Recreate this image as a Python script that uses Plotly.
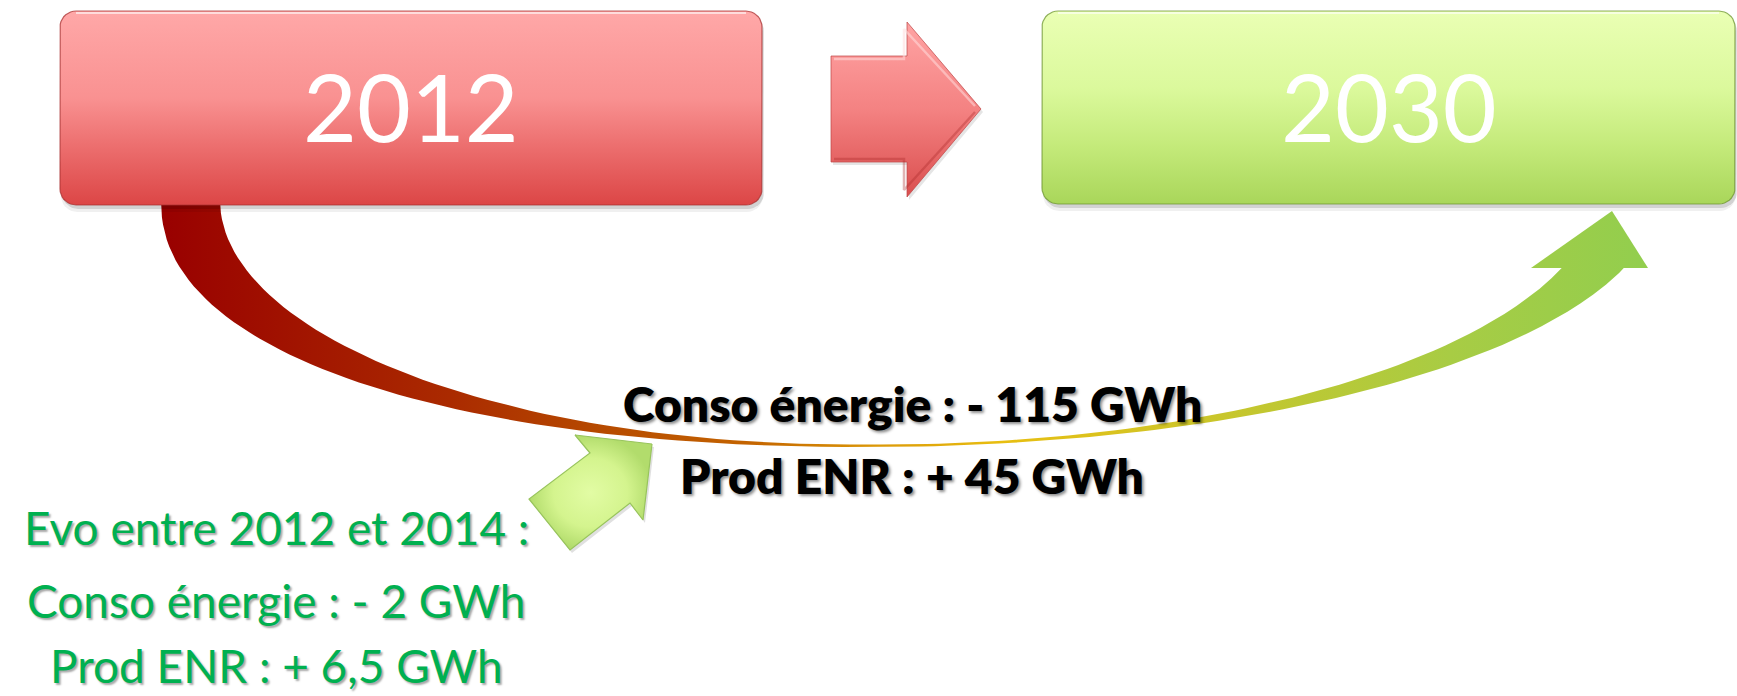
import numpy as np
import plotly.graph_objects as go

# ---------------- data ----------------
years = ["2012", "2030"]
target_labels = ["Conso énergie", "Prod ENR"]
target_values = [-115, 45]          # GWh, 2012 -> 2030
evo_period = ["2012", "2014"]
evo_labels = ["Conso énergie", "Prod ENR"]
evo_values = [-2, 6.5]              # GWh, 2012 -> 2014
unit = "GWh"


def fmt(v):
    sign = "-" if v < 0 else "+"
    return f"{sign} {abs(v):g}".replace(".", ",")


W, H = 1737, 696

# ---------------- geometry (pixel space) ----------------
def rounded_rect(x0, y0, x1, y1, r, n=10):
    xs, ys = [], []
    corners = [(x1 - r, y0 + r, -90, 0), (x1 - r, y1 - r, 0, 90),
               (x0 + r, y1 - r, 90, 180), (x0 + r, y0 + r, 180, 270)]
    for cx, cy, a0, a1 in corners:
        t = np.radians(np.linspace(a0, a1, n))
        xs += list(cx + r * np.cos(t))
        ys += list(cy + r * np.sin(t))
    xs.append(xs[0]); ys.append(ys[0])
    return xs, ys


def arc_left(cx, cy, a, b, p, n=60):
    """quarter super-ellipse from the top-left (vertical tangent) down to the bottom."""
    t = np.linspace(0, np.pi / 2, n)
    e = 2.0 / p
    return list(cx - a * np.cos(t) ** e), list(cy + b * np.sin(t) ** e)


def arc_right(cx, cy, a, b, x_end, n=60):
    """ellipse arc from the bottom point rising to the right until x_end."""
    x = np.linspace(cx, x_end, n)
    y = cy + b * np.sqrt(np.clip(1 - ((x - cx) / a) ** 2, 0, 1))
    return list(x), list(y)


boxes = [
    dict(x0=60, y0=11, x1=762, y1=205,
         colors=[[0, "#FFA8A8"], [0.45, "#F99191"], [0.7, "#EC6E6E"], [1, "#DC4646"]],
         edge="rgba(170,50,50,0.75)"),
    dict(x0=1042, y0=11, x1=1735, y1=204,
         colors=[[0, "#EAFFB4"], [0.4, "#DBF99C"], [0.7, "#C4EA7A"], [1, "#A9D65A"]],
         edge="rgba(110,150,50,0.75)"),
]

# big curved arrow: outer (lower) and inner (upper) edges
lx1, ly1 = arc_left(870, 200, 709, 247, 2.2)
lx2, ly2 = arc_right(870, 192, 790, 255, 1632)
ux2, uy2 = arc_right(880, 184.5, 720, 260, 1575)
ux1, uy1 = arc_left(850, 200, 630, 244.5, 2.0)
band_x = lx1 + lx2 + ux2[::-1] + ux1[::-1]
band_y = ly1 + ly2 + uy2[::-1] + uy1[::-1]

head_x = [1531, 1612, 1648, 1531]
head_y = [268, 211, 268, 268]
curve_scale = [[0, "#990000"], [0.194, "#AA2A00"], [0.295, "#B64A00"], [0.396, "#C46400"],
               [0.484, "#DC9A08"], [0.564, "#E8BE10"], [0.665, "#D4C424"], [0.766, "#BCC834"],
               [0.867, "#A8CC44"], [1, "#92CE4E"]]

# right block arrow between boxes
rarrow_x = [831, 907, 907, 981, 907, 907, 831, 831]
rarrow_y = [56, 56, 22, 109, 197, 162, 162, 56]

# small green arrow (pointing up-right)
sarrow_x = [652, 575, 590, 529, 570, 630, 643, 652]
sarrow_y = [444, 435, 453, 499, 550, 503, 520, 444]

fig = go.Figure()

# curved arrow band + head
fig.add_trace(go.Scatter(
    x=band_x, y=band_y, mode="lines", line=dict(width=0), fill="toself",
    fillgradient=dict(type="horizontal", start=161, stop=1648, colorscale=curve_scale),
    hoverinfo="skip"))
fig.add_trace(go.Scatter(
    x=head_x, y=head_y, mode="lines", line=dict(width=0), fill="toself",
    fillgradient=dict(type="horizontal", start=161, stop=1648, colorscale=curve_scale),
    hoverinfo="skip"))

# box shadows and boxes
for b in boxes:
    for dx, dy, a in [(1, 7, 0.06), (2, 4, 0.12)]:
        xs, ys = rounded_rect(b["x0"] + dx, b["y0"] + dy, b["x1"] + dx, b["y1"] + dy, 16)
        fig.add_trace(go.Scatter(x=xs, y=ys, mode="lines", line=dict(width=0),
                                 fill="toself", fillcolor=f"rgba(0,0,0,{a})", hoverinfo="skip"))
    xs, ys = rounded_rect(b["x0"], b["y0"], b["x1"], b["y1"], 16)
    fig.add_trace(go.Scatter(
        x=xs, y=ys, mode="lines", line=dict(width=1.2, color=b["edge"]), fill="toself",
        fillgradient=dict(type="vertical", start=b["y0"], stop=b["y1"], colorscale=b["colors"]),
        hoverinfo="skip"))
    # glossy top highlight
    fig.add_trace(go.Scatter(x=[b["x0"] + 16, b["x1"] - 16], y=[b["y0"] + 2, b["y0"] + 2],
                             mode="lines", line=dict(width=2, color="rgba(255,255,255,0.6)"),
                             hoverinfo="skip"))

# right block arrow
fig.add_trace(go.Scatter(x=[v + 2 for v in rarrow_x], y=[v + 3 for v in rarrow_y], mode="lines",
                         line=dict(width=0), fill="toself", fillcolor="rgba(0,0,0,0.1)",
                         hoverinfo="skip"))
fig.add_trace(go.Scatter(
    x=rarrow_x, y=rarrow_y, mode="lines", line=dict(width=1, color="rgba(190,70,70,0.7)"),
    fill="toself",
    fillgradient=dict(type="vertical", start=22, stop=197,
                      colorscale=[[0, "#FFA4A4"], [0.5, "#F48282"], [1, "#DA4E4E"]]),
    hoverinfo="skip"))
# bevel highlights on the block arrow
fig.add_trace(go.Scatter(x=[834, 904, 904, 975], y=[59, 59, 29, 106], mode="lines",
                         line=dict(width=2.5, color="rgba(255,220,220,0.55)"), hoverinfo="skip"))
fig.add_trace(go.Scatter(x=[975, 904, 904, 834], y=[112, 190, 159, 159], mode="lines",
                         line=dict(width=2.5, color="rgba(170,40,40,0.35)"), hoverinfo="skip"))

# small green arrow
fig.add_trace(go.Scatter(x=[v + 2 for v in sarrow_x], y=[v + 3 for v in sarrow_y], mode="lines",
                         line=dict(width=0), fill="toself", fillcolor="rgba(0,0,0,0.12)",
                         hoverinfo="skip"))
fig.add_trace(go.Scatter(
    x=sarrow_x, y=sarrow_y, mode="lines", line=dict(width=1.2, color="#98C45C"),
    fill="toself",
    fillgradient=dict(type="radial", colorscale=[[0, "#E2FCA4"], [0.6, "#D4F48E"], [1, "#B2DC6C"]]),
    hoverinfo="skip"))

annotations = []
# year labels
for b, yr in zip(boxes, years):
    annotations.append(dict(x=(b["x0"] + b["x1"]) / 2, y=106, text=yr, showarrow=False,
                            xanchor="center", yanchor="middle",
                            font=dict(family="Lato", size=93, color="white")))

# 2012 -> 2030 targets
for i, (lab, val) in enumerate(zip(target_labels, target_values)):
    annotations.append(dict(x=912, y=[403, 475][i], text=f"{lab} : {fmt(val)} {unit}",
                            showarrow=False, xanchor="center", yanchor="middle",
                            font=dict(family="Lato", size=48, color="black", weight=800,
                                      shadow="2px 2px 3px rgba(0,0,0,0.45)")))

# 2012 -> 2014 evolution
evo_lines = [f"Evo entre {evo_period[0]} et {evo_period[1]} :"] + \
            [f"{lab} : {fmt(val)} {unit}" for lab, val in zip(evo_labels, evo_values)]
evo_y = [527, 600, 694]
evo_anchor = ["middle", "middle", "bottom"]
for i, line in enumerate(evo_lines):
    annotations.append(dict(x=276, y=evo_y[i], text=line, showarrow=False,
                            xanchor="center", yanchor=evo_anchor[i], borderpad=0,
                            font=dict(family="Lato", size=46, color="#00B050",
                                      shadow="2px 2px 2px rgba(0,0,0,0.35)")))

fig.update_layout(
    width=W, height=H, margin=dict(l=0, r=0, t=0, b=0),
    paper_bgcolor="white", plot_bgcolor="white", showlegend=False,
    xaxis=dict(range=[0, W], visible=False, fixedrange=True),
    yaxis=dict(range=[H, 0], visible=False, fixedrange=True),
    annotations=annotations,
)

fig.write_html("out.html", config={"displayModeBar": False},
               post_script="document.body.style.margin='0';document.body.style.overflow='hidden';")
